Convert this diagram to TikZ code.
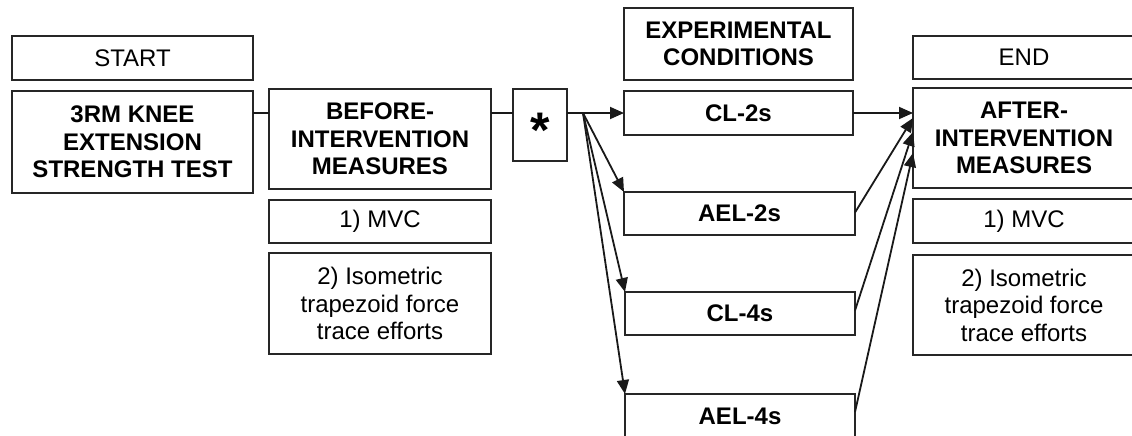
\documentclass[tikz,border=0pt]{standalone}
\usepackage{fontspec}
\setmainfont{Liberation Sans}
\usetikzlibrary{arrows.meta,calc}
\begin{document}
\begin{tikzpicture}[x=1pt,y=-1pt,
  every node/.style={inner sep=0pt, outer sep=0pt},
  box/.style={draw=black!85, line width=1.8pt, fill=white, align=center,
    font=\fontsize{24}{27.5}\selectfont},
  bbox/.style={box, font=\fontsize{24}{27.5}\selectfont\bfseries},
  link/.style={draw=black!90, line width=1.8pt},
  arr/.style={link, -{Triangle[length=14pt,width=12pt]}}]
\useasboundingbox (0,0) rectangle (1132,436);
\clip (0,0) rectangle (1132,436);
% left column
\node[box, minimum width=241pt, minimum height=44pt] (start) at (132.5,58) {START};
\node[bbox, minimum width=241pt, minimum height=102pt] (knee) at (132.5,142) {3RM KNEE\\EXTENSION\\STRENGTH TEST};
% before-intervention column
\node[bbox, minimum width=222pt, minimum height=100pt] (before) at (380,139) {BEFORE-\\INTERVENTION\\MEASURES};
\node[box, minimum width=222pt, minimum height=43pt] (mvca) at (380,221.5) {1) MVC};
\node[box, minimum width=222pt, minimum height=101pt] (isoa) at (380,303.5) {2) Isometric\\trapezoid force\\trace efforts};
% randomisation box
\node[draw=black!85, line width=1.8pt, minimum width=54pt, minimum height=72pt] (star) at (540,125) {};
\node[font=\fontsize{50}{50}\selectfont\bfseries] (asterisk) at (540,130) {*};
% experimental conditions
\node[bbox, minimum width=229pt, minimum height=72pt] (exp) at (738.5,44) {EXPERIMENTAL\\CONDITIONS};
\node[bbox, minimum width=229pt, minimum height=44pt] (cl2) at (738.5,113) {CL-2s};
\node[bbox, minimum width=231pt, minimum height=43pt] (ael2) at (739.5,213.5) {AEL-2s};
\node[bbox, minimum width=230pt, minimum height=43pt] (cl4) at (740,313.5) {CL-4s};
\node[bbox, minimum width=230pt, minimum height=44pt] (ael4) at (740,416) {AEL-4s};
% after-intervention column
\node[box, minimum width=222pt, minimum height=43pt] (end) at (1024,57.5) {END};
\node[bbox, minimum width=222pt, minimum height=100pt] (after) at (1024,138) {AFTER-\\INTERVENTION\\MEASURES};
\node[box, minimum width=222pt, minimum height=44pt] (mvcb) at (1024,221) {1) MVC};
\node[box, minimum width=222pt, minimum height=100pt] (isob) at (1024,305) {2) Isometric\\trapezoid force\\trace efforts};
% connectors
\coordinate (mid) at (0,113);
\coordinate (br) at (583,113);
\draw[link] (knee.east |- mid) -- (before.west |- mid);
\draw[link] (before.east |- mid) -- (star.west |- mid);
\draw[link] (star.east |- mid) -- (br);
\draw[arr] (br) -- (cl2.west);
\draw[arr] (br) -- (ael2.north west);
\draw[arr] (br) -- (cl4.north west);
\draw[arr] (br) -- (ael4.north west);
\draw[arr] (cl2.east) -- (after.west |- cl2.east);
\draw[arr] ($(ael2.east)+(0,-1)$) -- ($(after.north west)+(0,30)$);
\draw[arr] ($(cl4.east)+(0,-3)$) -- ($(after.north west)+(0,44)$);
\draw[arr] ($(ael4.east)+(0,-4)$) -- ($(after.north west)+(0,65)$);
\end{tikzpicture}
\end{document}
